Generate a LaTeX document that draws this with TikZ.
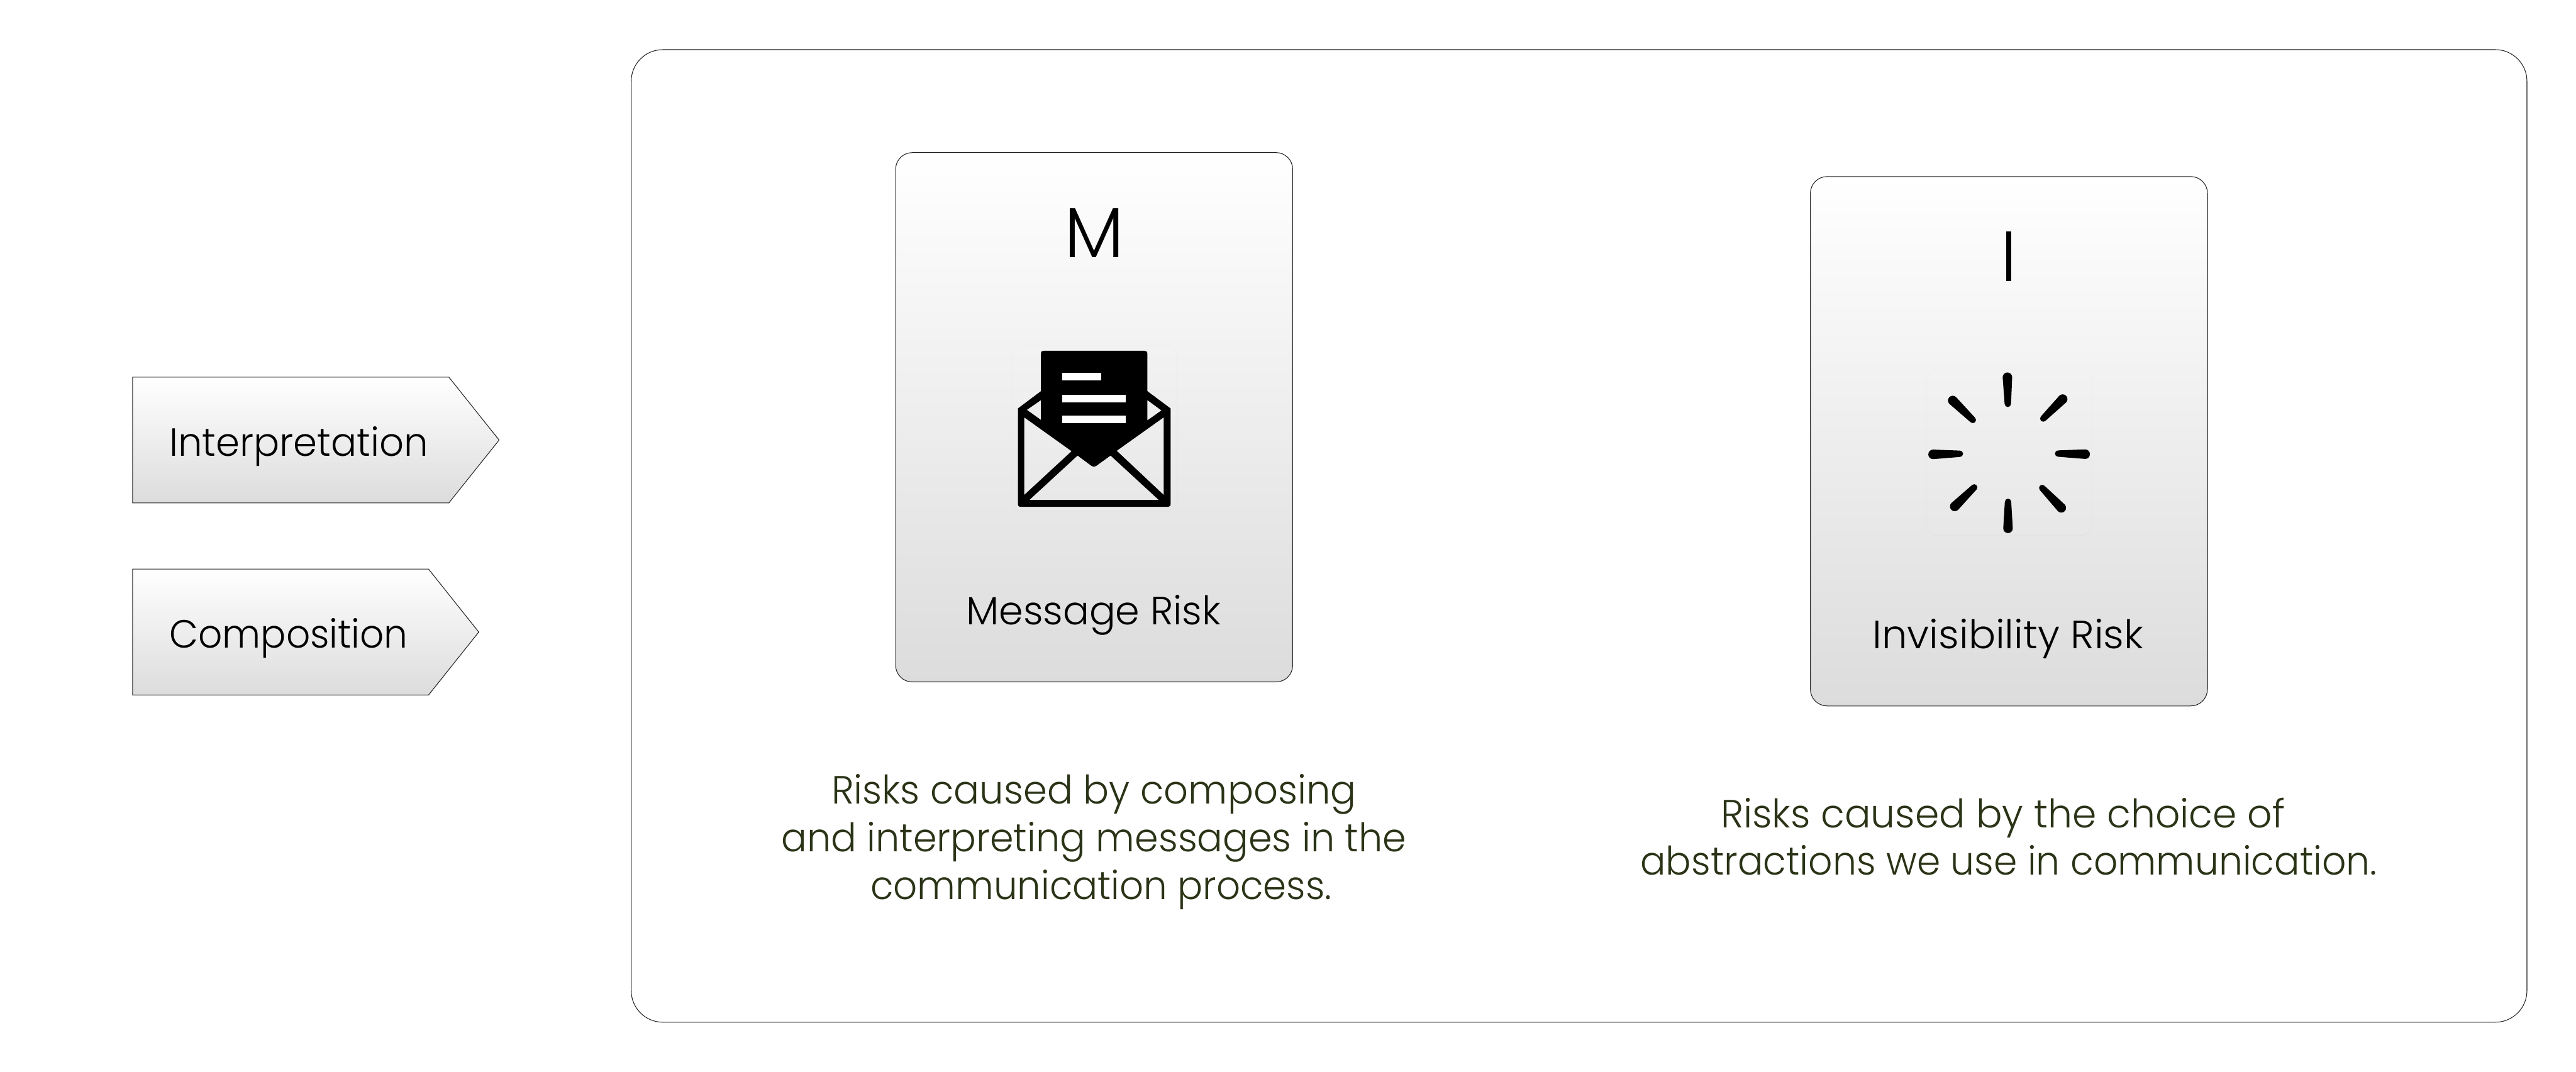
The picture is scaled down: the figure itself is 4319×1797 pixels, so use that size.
\documentclass[tikz,border=0pt]{standalone}
\usepackage{fontspec}
\usepackage{graphicx}
\setmainfont{Poppins}[UprightFont=* Light]
\usetikzlibrary{calc}
\definecolor{capcol}{HTML}{2A3316}
\definecolor{edgecol}{HTML}{202020}
\definecolor{shadebot}{HTML}{DCDCDC}
\newcommand{\fitw}[2]{\resizebox{#1}{\height}{#2}}
\newcommand{\spoke}[4]{%
  \pgfmathsetmacro\sL{veclen(#3-#1,#4-#2)}%
  \pgfmathsetmacro\sA{atan2(-(#4-#2),#3-#1)}%
  \fill[black,shift={(#1,#2)},rotate=\sA] (0,24) arc (90:270:24) -- (\sL,-16) arc (-90:90:16) -- cycle;%
}
\tikzset{
  x=.5pt,y=-.5pt,
  frame/.style={draw=edgecol,line width=.55pt,rounded corners=26.5pt,fill=white},
  card/.style={draw=edgecol,line width=.55pt,rounded corners=14pt,top color=white,bottom color=shadebot,
    minimum width=332.85pt,minimum height=443.9pt,inner sep=0pt,outer sep=0pt},
  tag/.style={draw=edgecol,line width=.55pt,top color=white,bottom color=shadebot,line join=miter},
  label/.style={inner sep=0pt,outer sep=0pt,anchor=base,text=black,font=\fontsize{33}{40}\selectfont},
  letter/.style={inner sep=0pt,outer sep=0pt,anchor=base,text=black,font=\fontsize{59.5}{60}\selectfont},
  caption/.style={inner sep=0pt,outer sep=0pt,anchor=base,text=capcol,align=center,font=\fontsize{33}{40}\selectfont},
  iconback/.style={draw=black,draw opacity=.02,line width=.5pt,rounded corners=10pt},
}
\begin{document}
\begin{tikzpicture}
\path[use as bounding box,fill=white] (0,0) rectangle (4319,1797);
% outer frame
\draw[frame] (1058.3,83.3) rectangle (4236.7,1714.3);
% tags
\draw[tag] (222.3,632.5) -- (752.6,632.5) -- (836.8,738) -- (752.6,843.4) -- (222.3,843.4) -- cycle;
\draw[tag] (222.3,954.4) -- (718.5,954.4) -- (802.7,1060) -- (718.5,1165.6) -- (222.3,1165.6) -- cycle;
\node[label] (interp) at (501,764.6) {\fitw{217pt}{Interpretation}};
\node[label] (compo) at (484,1086.8) {\fitw{200pt}{Composition}};
% cards
\node[card] (cardM) at (1834.5,699.8) {};
\node[card] (cardI) at (3368.2,740) {};
\node[letter] (letM) at (1834.7,431.9) {M};
\node[letter] (letI) at (3368.4,471.9) {I};
\node[label] (riskM) at (1833.5,1048) {\fitw{213.5pt}{Message Risk}};
\node[label] (riskI) at (3366.8,1088) {\fitw{227pt}{Invisibility Risk}};
% envelope
\begin{scope}[shift={(1680,570)},scale=1/3]
\draw[iconback] (47,30) rectangle (880,865);
\fill[black,even odd rule]
  (80,345) -- (196,258) -- (196,70) .. controls (196,60) and (200,55) .. (210,55)
  -- (718,55) .. controls (727,55) and (731,60) .. (731,70) -- (731,258) -- (848,345) -- (848,825)
  .. controls (848,835) and (843,840) .. (835,840) -- (95,840) .. controls (85,840) and (80,835) .. (80,825) -- cycle
  (125,352) -- (196,303) -- (196,403) -- cycle
  (802,355) -- (731,303) -- (731,405) -- cycle
  (112,390) -- (350,560) -- (112,780) -- cycle
  (813,390) -- (577,558) -- (813,780) -- cycle
  (138,805) -- (380,582) -- (450,634) .. controls (458,640) and (466,640) .. (474,634) -- (546,582) -- (788,805) -- cycle;
\fill[white] (303,165) rectangle (500,204);
\fill[white] (303,276) rectangle (623,315);
\fill[white] (303,381) rectangle (623,420);
\end{scope}
% spinner
\begin{scope}[shift={(3210,610)},scale=1/3]
\draw[iconback] (58,30) rectangle (892,865);
\spoke{467}{68}{469}{202}
\spoke{745}{178}{647}{276}
\spoke{858}{455}{722}{452}
\spoke{738}{725}{642}{625}
\spoke{470}{828}{470}{695}
\spoke{202}{718}{300}{622}
\spoke{93}{456}{228}{453}
\spoke{192}{185}{293}{283}
\end{scope}
% captions
\node[caption] (capM) at (1834,1508) {\fitw{440pt}{Risks caused by composing}\\\fitw{524pt}{and interpreting messages in the}\\\hspace*{12pt}\fitw{386.5pt}{communication process.}};
\node[caption] (capI) at (3368,1467.7) {\fitw{473pt}{Risks caused by the choice of}\hspace*{10pt}\\\fitw{617.5pt}{abstractions we use in communication.}};
\end{tikzpicture}
\end{document}
